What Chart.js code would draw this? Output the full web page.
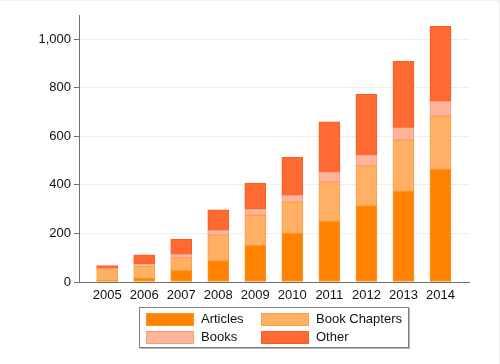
<!DOCTYPE html>
<html>
<head>
<meta charset="utf-8">
<script src="https://cdn.jsdelivr.net/npm/chart.js@4.4.1/dist/chart.umd.min.js"></script>
<style>
  body { margin: 0; background: #fff; font-family: "Liberation Sans", Arial, sans-serif; }
  #wrap { position: relative; width: 500px; height: 364px; box-sizing: border-box;
          border-top: 1px solid #eef1f1; border-right: 1px solid #eef1f1; }
  #myChart { position: absolute; left: 0; top: 0; }
  #legend { position: absolute; left: 139px; top: 306px; width: 268px; height: 39px;
            border: 1px solid #7f7f7f; box-shadow: 1px 1px 0 #b5b5b5; background: #fff; }
  .sw { position: absolute; width: 46px; height: 11px; border: 1px solid; }
  .lb { position: absolute; font-size: 13px; color: #111; line-height: 14px; white-space: nowrap; }
</style>
</head>
<body>
<div id="wrap">
  <canvas id="myChart" width="500" height="364"></canvas>
  <div id="legend"></div>
</div>
<script>
// data
const years = [2005, 2006, 2007, 2008, 2009, 2010, 2011, 2012, 2013, 2014];
const articles     = [7, 15, 47, 87, 150, 200, 250, 313, 374, 464];
const bookChapters = [48, 51, 53, 107, 125, 128, 163, 166, 211, 219];
const books        = [1, 7, 14, 19, 25, 29, 41, 45, 51, 61];
const other        = [12, 39, 63, 84, 108, 157, 206, 249, 273, 309];
const yTicks = [0, 200, 400, 600, 800, 1000];

function pts(vals) {
    return years.map((yr, i) => ({ x: yr, y: vals[i] }));
}

function bars(label, vals, fill, edge) {
    return {
        label: label,
        data: pts(vals),
        backgroundColor: fill,
        borderColor: edge,
        borderWidth: 1,
        borderSkipped: false,
        barThickness: 21
    };
}

const ctx = document.getElementById('myChart').getContext('2d');
Chart.defaults.font.family = '"Liberation Sans", Arial, sans-serif';
Chart.defaults.font.size = 13;
Chart.defaults.color = '#111';

const myChart = new Chart(ctx, {
    type: 'bar',
    data: {
        datasets: [
            bars('Articles', articles, '#ff8200', '#ff9226'),
            bars('Book Chapters', bookChapters, '#ffb064', '#ff9f45'),
            bars('Books', books, '#ffb49c', '#ff9a80'),
            bars('Other', other, '#ff6a32', '#ff5a20')
        ]
    },
    options: {
        responsive: false,
        animation: false,
        layout: { padding: { left: 0, top: 14, right: 31, bottom: 0 } },
        plugins: {
            legend: { display: false },
            tooltip: { enabled: false }
        },
        scales: {
            x: {
                type: 'linear',
                stacked: true,
                offset: false,
                min: 2004.24,
                max: 2014.77,
                afterFit: s => { s.height = 83; },
                grid: { display: false, drawTicks: false, offset: false },
                border: { display: true, color: '#6e6e6e', width: 1 },
                ticks: {
                    stepSize: 1,
                    includeBounds: false,
                    padding: 6,
                    maxRotation: 0,
                    autoSkip: false,
                    callback: v => String(v)
                }
            },
            y: {
                stacked: true,
                min: 0,
                max: 1100,
                afterFit: s => { s.width = 79; },
                afterBuildTicks: s => { s.ticks = yTicks.map(v => ({ value: v })); },
                grid: {
                    color: c => (c.tick && c.tick.value === 0) ? 'rgba(0,0,0,0)' : '#e9f0f0',
                    tickColor: '#6e6e6e',
                    tickLength: 5,
                    lineWidth: 1
                },
                border: { display: true, color: '#6e6e6e', width: 1 },
                ticks: { padding: 3 }
            }
        }
    }
});

// legend box, two columns like the original
const legend = document.getElementById('legend');
const spots = [[6, 61, 5], [121, 176, 5], [6, 61, 23], [121, 176, 23]];
myChart.data.datasets.forEach((ds, i) => {
    const p = spots[i];
    const sw = document.createElement('div');
    sw.className = 'sw';
    sw.style.left = p[0] + 'px';
    sw.style.top = p[2] + 'px';
    sw.style.background = ds.backgroundColor;
    sw.style.borderColor = ds.borderColor;
    legend.appendChild(sw);
    const lb = document.createElement('div');
    lb.className = 'lb';
    lb.style.left = p[1] + 'px';
    lb.style.top = (p[2] - 1) + 'px';
    lb.textContent = ds.label;
    legend.appendChild(lb);
});
</script>
</body>
</html>
